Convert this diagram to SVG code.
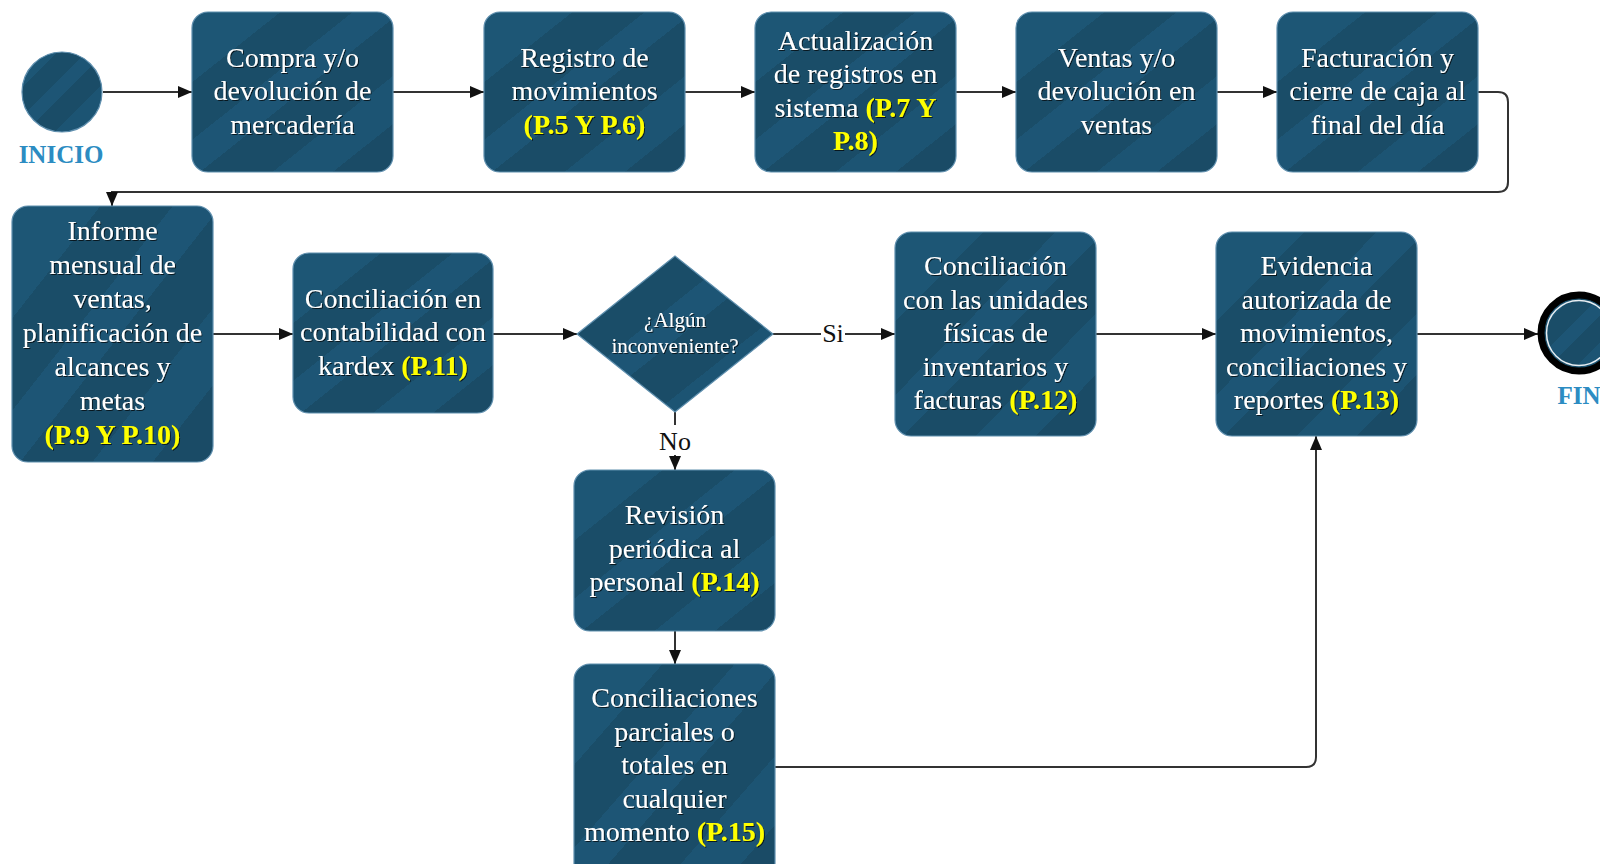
<svg xmlns="http://www.w3.org/2000/svg" width="1600" height="864" viewBox="0 0 1600 864">
<style>
.box{fill:url(#g);stroke:#5f8fae;stroke-width:1.2}
.t{font-family:"Liberation Serif","Times New Roman",serif;font-size:28px;fill:#ffffff;text-anchor:middle;filter:url(#ts)}
.y{fill:#ffff00;font-weight:bold}
.c{fill:none;stroke:#333333;stroke-width:2}
.lbl{font-family:"Liberation Serif","Times New Roman",serif;font-size:26px;fill:#111111;text-anchor:middle}
.term{font-family:"Liberation Serif","Times New Roman",serif;font-size:25px;font-weight:bold;fill:#2c8cc2;text-anchor:middle}
</style>
<defs>
<linearGradient id="g" x1="0" y1="0" x2="1" y2="1">
<stop offset="0" stop-color="#1d5675"/><stop offset="0.22" stop-color="#1d5675"/>
<stop offset="0.22" stop-color="#1a4d68"/><stop offset="0.4" stop-color="#1a4d68"/>
<stop offset="0.4" stop-color="#1d5575"/><stop offset="0.52" stop-color="#1d5575"/>
<stop offset="0.52" stop-color="#1a4c67"/><stop offset="0.7" stop-color="#1a4c67"/>
<stop offset="0.7" stop-color="#1c5473"/><stop offset="0.85" stop-color="#1c5473"/>
<stop offset="0.85" stop-color="#1a4b66"/><stop offset="1" stop-color="#1a4b66"/>
</linearGradient>
<filter id="ts" x="-10%" y="-20%" width="120%" height="140%">
<feDropShadow dx="1" dy="1" stdDeviation="0.6" flood-color="#000000" flood-opacity="0.7"/>
</filter>
<marker id="a" markerUnits="userSpaceOnUse" markerWidth="14" markerHeight="12" refX="14" refY="6" orient="auto">
<path d="M0,0 L14,6 L0,12 z" fill="#111111"/>
</marker>
</defs>

<g id="connectors">
<path class="c" d="M103,92 H192" marker-end="url(#a)"/>
<path class="c" d="M393,92 H484" marker-end="url(#a)"/>
<path class="c" d="M685,92 H755" marker-end="url(#a)"/>
<path class="c" d="M956,92 H1016" marker-end="url(#a)"/>
<path class="c" d="M1217,92 H1277" marker-end="url(#a)"/>
<path class="c" d="M1478,92 H1498 Q1508,92 1508,102 V182 Q1508,192 1498,192 H112 V206" marker-end="url(#a)"/>
<path class="c" d="M213,334 H293" marker-end="url(#a)"/>
<path class="c" d="M493,334 H577" marker-end="url(#a)"/>
<path class="c" d="M773,334 H895" marker-end="url(#a)"/>
<path class="c" d="M675,412 V470" marker-end="url(#a)"/>
<path class="c" d="M1096,334 H1216" marker-end="url(#a)"/>
<path class="c" d="M1417,334 H1538" marker-end="url(#a)"/>
<path class="c" d="M675,631 V664" marker-end="url(#a)"/>
<path class="c" d="M775,767 H1306 Q1316,767 1316,757 V436" marker-end="url(#a)"/>
<rect x="821" y="318" width="24" height="30" fill="#ffffff"/>
<text class="lbl" x="833" y="342">Si</text>
<rect x="659" y="425" width="32" height="30" fill="#ffffff"/>
<text class="lbl" x="675" y="450">No</text>
</g>

<g id="inicio">
<circle cx="62" cy="92" r="40" fill="url(#g)" stroke="#5f8fae" stroke-width="1.2"/>
<text class="term" x="61" y="163">INICIO</text>
</g>

<g id="n1">
<rect class="box" x="192" y="12" width="201" height="160" rx="16"/>
<text class="t" x="292.5"><tspan x="292.5" y="66.5">Compra y/o</tspan><tspan x="292.5" y="100">devolución de</tspan><tspan x="292.5" y="133.5">mercadería</tspan></text>
</g>

<g id="n2">
<rect class="box" x="484" y="12" width="201" height="160" rx="16"/>
<text class="t" x="584.5"><tspan x="584.5" y="66.5">Registro de</tspan><tspan x="584.5" y="100">movimientos</tspan><tspan x="584.5" y="133.5" class="y">(P.5 Y P.6)</tspan></text>
</g>

<g id="n3">
<rect class="box" x="755" y="12" width="201" height="160" rx="16"/>
<text class="t" x="855.5"><tspan x="855.5" y="49.5">Actualización</tspan><tspan x="855.5" y="83">de registros en</tspan><tspan x="855.5" y="116.5">sistema <tspan class="y">(P.7 Y</tspan></tspan><tspan x="855.5" y="150" class="y">P.8)</tspan></text>
</g>

<g id="n4">
<rect class="box" x="1016" y="12" width="201" height="160" rx="16"/>
<text class="t" x="1116.5"><tspan x="1116.5" y="66.5">Ventas y/o</tspan><tspan x="1116.5" y="100">devolución en</tspan><tspan x="1116.5" y="133.5">ventas</tspan></text>
</g>

<g id="n5">
<rect class="box" x="1277" y="12" width="201" height="160" rx="16"/>
<text class="t" x="1377.5"><tspan x="1377.5" y="66.5">Facturación y</tspan><tspan x="1377.5" y="100">cierre de caja al</tspan><tspan x="1377.5" y="133.5">final del día</tspan></text>
</g>

<g id="n6">
<rect class="box" x="12" y="206" width="201" height="256" rx="16"/>
<text class="t" x="112.5"><tspan x="112.5" y="240">Informe</tspan><tspan x="112.5" y="274">mensual de</tspan><tspan x="112.5" y="308">ventas,</tspan><tspan x="112.5" y="342">planificación de</tspan><tspan x="112.5" y="376">alcances y</tspan><tspan x="112.5" y="410">metas</tspan><tspan x="112.5" y="444" class="y">(P.9 Y P.10)</tspan></text>
</g>

<g id="n7">
<rect class="box" x="293" y="253" width="200" height="160" rx="16"/>
<text class="t" x="393"><tspan x="393" y="307.5">Conciliación en</tspan><tspan x="393" y="341">contabilidad con</tspan><tspan x="393" y="374.5">kardex <tspan class="y">(P.11)</tspan></tspan></text>
</g>

<g id="decision">
<polygon points="577,334 675,256 773,334 675,412" fill="url(#g)" stroke="#5f8fae" stroke-width="1.2"/>
<text class="t" style="font-size:21px" x="675"><tspan x="675" y="327">¿Algún</tspan><tspan x="675" y="353">inconveniente?</tspan></text>
</g>

<g id="n8">
<rect class="box" x="895" y="232" width="201" height="204" rx="16"/>
<text class="t" x="995.5"><tspan x="995.5" y="275">Conciliación</tspan><tspan x="995.5" y="308.5">con las unidades</tspan><tspan x="995.5" y="342">físicas de</tspan><tspan x="995.5" y="375.5">inventarios y</tspan><tspan x="995.5" y="409">facturas <tspan class="y">(P.12)</tspan></tspan></text>
</g>

<g id="n9">
<rect class="box" x="1216" y="232" width="201" height="204" rx="16"/>
<text class="t" x="1316.5"><tspan x="1316.5" y="275">Evidencia</tspan><tspan x="1316.5" y="308.5">autorizada de</tspan><tspan x="1316.5" y="342">movimientos,</tspan><tspan x="1316.5" y="375.5">conciliaciones y</tspan><tspan x="1316.5" y="409">reportes <tspan class="y">(P.13)</tspan></tspan></text>
</g>

<g id="fin">
<circle cx="1579" cy="333" r="38" fill="url(#g)" stroke="#000000" stroke-width="7"/>
<circle cx="1579" cy="333" r="32.5" fill="none" stroke="#e8eef2" stroke-width="1.5"/>
<text class="term" x="1579" y="404">FIN</text>
</g>

<g id="n10">
<rect class="box" x="574" y="470" width="201" height="161" rx="16"/>
<text class="t" x="674.5"><tspan x="674.5" y="524">Revisión</tspan><tspan x="674.5" y="557.5">periódica al</tspan><tspan x="674.5" y="591">personal <tspan class="y">(P.14)</tspan></tspan></text>
</g>

<g id="n11">
<rect class="box" x="574" y="664" width="201" height="230" rx="16"/>
<text class="t" x="674.5"><tspan x="674.5" y="707">Conciliaciones</tspan><tspan x="674.5" y="740.5">parciales o</tspan><tspan x="674.5" y="774">totales en</tspan><tspan x="674.5" y="807.5">cualquier</tspan><tspan x="674.5" y="841">momento <tspan class="y">(P.15)</tspan></tspan></text>
</g>
</svg>
